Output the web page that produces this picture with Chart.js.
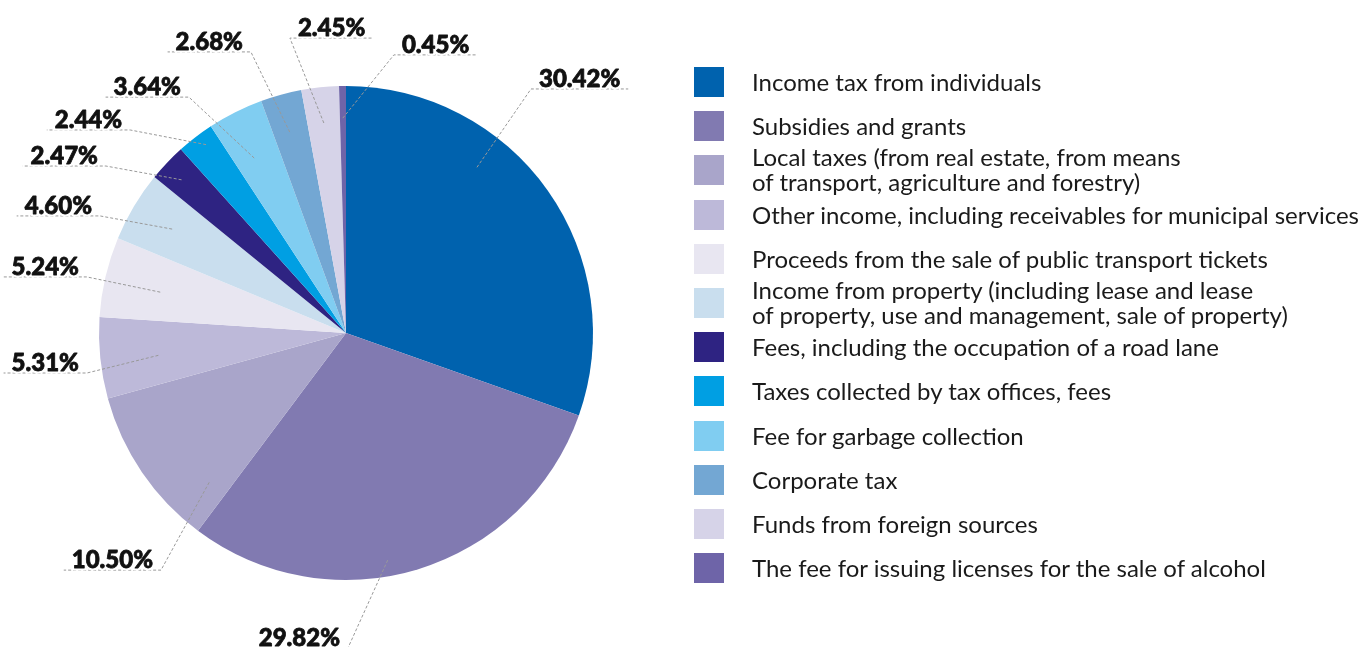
<!DOCTYPE html>
<html>
<head>
<meta charset="utf-8">
<script src="https://cdn.jsdelivr.net/npm/chart.js@4.4.1/dist/chart.umd.min.js"></script>
<style>
    html, body { margin: 0; padding: 0; background: #ffffff; }
    #wrap { position: relative; width: 1362px; height: 647px; overflow: hidden; }
    #myChart { position: absolute; left: 0; top: 0; }
    #legend { position: absolute; left: 694px; top: 67px; font-family: Lato, "Noto Sans", sans-serif; font-size: 24px; color: #1a1a1a; }
    .item { position: absolute; left: 0; height: 30px; width: 700px; }
    .box { position: absolute; left: 0; top: 0; width: 30px; height: 30px; }
    .txt { position: absolute; left: 58px; top: 14px; transform: translateY(-50%); line-height: 25px; white-space: nowrap; }
</style>
</head>
<body>
<div id="wrap">
    <canvas id="myChart" width="1362" height="647"></canvas>
    <div id="legend"></div>
</div>
<script>
    const categories = [
        "Income tax from individuals",
        "Subsidies and grants",
        "Local taxes (from real estate, from means\nof transport, agriculture and forestry)",
        "Other income, including receivables for municipal services",
        "Proceeds from the sale of public transport tickets",
        "Income from property (including lease and lease\nof property, use and management, sale of property)",
        "Fees, including the occupation of a road lane",
        "Taxes collected by tax offices, fees",
        "Fee for garbage collection",
        "Corporate tax",
        "Funds from foreign sources",
        "The fee for issuing licenses for the sale of alcohol"
    ];
    const shares = [30.42, 29.82, 10.50, 5.31, 5.24, 4.60, 2.47, 2.44, 3.64, 2.68, 2.45, 0.45];
    const valueLabels = ["30.42%", "29.82%", "10.50%", "5.31%", "5.24%", "4.60%", "2.47%", "2.44%", "3.64%", "2.68%", "2.45%", "0.45%"];

    const colors = ["#0062ae", "#817ab1", "#a9a5ca", "#bdb9d9", "#e8e6f1", "#c9deee",
                    "#2e2382", "#009fe3", "#80cdf1", "#73a7d3", "#d6d3e8", "#6e64a8"];

    // label placement: t = position along the slice, r = radius fraction of anchor,
    // ex/ey = elbow offset from centre in radius units, side = direction of the underline
    const labelLayout = [
        { t: 0.35, r: 0.855, ex: 0.749, ey: -0.988, side: 1 },
        { t: 0.56, r: 0.935, ex: 0.008, ey: 1.275, side: -1 },
        { t: 0.15, r: 0.82, ex: -0.749, ey: 0.960, side: -1 },
        { t: 0.45, r: 0.765, ex: -1.049, ey: 0.162, side: -1 },
        { t: 0.46, r: 0.77, ex: -1.049, ey: -0.227, side: -1 },
        { t: 0.50, r: 0.82, ex: -0.996, ey: -0.474, side: -1 },
        { t: 0.43, r: 0.91, ex: -0.972, ey: -0.676, side: -1 },
        { t: 0.61, r: 0.95, ex: -0.874, ey: -0.822, side: -1 },
        { t: 0.42, r: 0.80, ex: -0.636, ey: -0.955, side: -1 },
        { t: 0.46, r: 0.845, ex: -0.385, ey: -1.138, side: -1 },
        { t: 0.50, r: 0.855, ex: -0.227, ey: -1.194, side: 1 },
        { t: 0.47, r: 0.87, ex: 0.194, ey: -1.126, side: 1 }
    ];

    const calloutPlugin = {
        id: 'callouts',
        afterDraw(chart) {
            const ctx = chart.ctx;
            const arcs = chart.getDatasetMeta(0).data;
            ctx.save();
            ctx.font = '900 24px Lato, "Noto Sans", sans-serif';
            arcs.forEach((arc, i) => {
                const lay = labelLayout[i];
                const R = arc.outerRadius;
                const a = arc.startAngle + lay.t * (arc.endAngle - arc.startAngle);
                const ax = arc.x + Math.cos(a) * R * lay.r;
                const ay = arc.y + Math.sin(a) * R * lay.r;
                const ex = arc.x + lay.ex * R;
                const ey = arc.y + lay.ey * R;
                const w = ctx.measureText(valueLabels[i]).width;
                const len = w + 16;
                const endX = ex + lay.side * len;

                ctx.strokeStyle = '#999999';
                ctx.lineWidth = 1;
                ctx.setLineDash([3, 2]);
                ctx.beginPath();
                ctx.moveTo(ax, ay);
                ctx.lineTo(ex, ey);
                ctx.lineTo(endX, ey);
                ctx.stroke();
                ctx.setLineDash([]);

                const cx = (ex + endX) / 2;
                ctx.textAlign = 'center';
                ctx.textBaseline = 'alphabetic';
                ctx.lineJoin = 'round';
                ctx.lineWidth = 5;
                ctx.strokeStyle = '#ffffff';
                ctx.strokeText(valueLabels[i], cx, ey - 2);
                ctx.fillStyle = '#111111';
                ctx.fillText(valueLabels[i], cx, ey - 2);
                ctx.lineWidth = 0.8;
                ctx.strokeStyle = '#111111';
                ctx.strokeText(valueLabels[i], cx, ey - 2);
            });
            ctx.restore();
        }
    };

    const ctx = document.getElementById('myChart');
    new Chart(ctx, {
        type: 'pie',
        data: {
            labels: categories,
            datasets: [
                {
                    data: shares,
                    backgroundColor: colors,
                    borderWidth: 0
                }
            ]
        },
        options: {
            responsive: false,
            animation: false,
            layout: { padding: { left: 99, right: 769, top: 86, bottom: 67 } },
            plugins: {
                legend: { display: false },
                tooltip: { enabled: false }
            }
        },
        plugins: [calloutPlugin]
    });

    // legend built from the same arrays
    const legend = document.getElementById('legend');
    categories.forEach((name, i) => {
        const item = document.createElement('div');
        item.className = 'item';
        item.style.top = Math.round(i * 44.2) + 'px';
        const box = document.createElement('div');
        box.className = 'box';
        box.style.background = colors[i];
        const txt = document.createElement('div');
        txt.className = 'txt';
        txt.innerHTML = name.split('\n').join('<br>');
        item.appendChild(box);
        item.appendChild(txt);
        legend.appendChild(item);
    });
</script>
</body>
</html>
